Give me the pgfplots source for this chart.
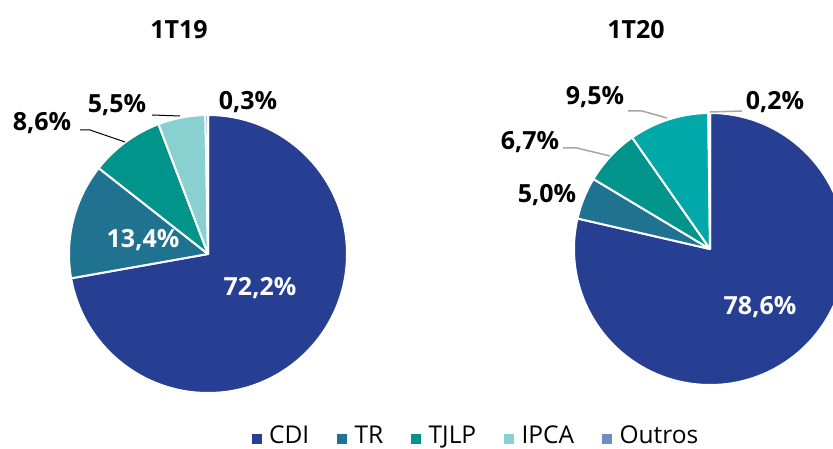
\documentclass[border=0pt]{standalone}
\usepackage{pgfplots}
\pgfplotsset{compat=1.18}
\usepackage{fontspec}
\setmainfont{Open Sans}

\definecolor{cdi}{RGB}{38,63,147}
\definecolor{tr}{RGB}{31,114,144}
\definecolor{tjlp}{RGB}{0,148,138}
\definecolor{ipca}{RGB}{136,209,208}
\definecolor{ipcaB}{RGB}{0,168,170}
\definecolor{outros}{RGB}{111,140,198}
\definecolor{leader}{RGB}{166,166,166}

% one pie: centre x, centre y, radius (pt), list of value/colour (clockwise from 12 o'clock)
\newcommand\drawpie[4]{%
  \pgfmathsetmacro\cur{90}%
  \foreach \v/\c in {#4} {%
    \pgfmathsetmacro\nxt{\cur-3.6*\v}%
    \fill[\c, draw=white, line width=2pt, line join=round]
      (axis cs:#1,#2) -- ++(\cur:#3pt) arc[start angle=\cur, end angle=\nxt, radius=#3pt] -- cycle;
    \global\let\cur\nxt
  }%
}

\newcommand\lbl{\bfseries\fontsize{25}{25}\selectfont}

\begin{document}
\begin{tikzpicture}
\useasboundingbox (0,0) rectangle (833pt,448pt);
\begin{axis}[
    at={(0,0)}, anchor=south west,
    scale only axis,
    width=833pt, height=448pt,
    xmin=0, xmax=833, ymin=0, ymax=448,
    hide axis,
    clip=true,
    legend columns=5,
    legend image code/.code={\fill[#1] (0pt,0pt) rectangle (9pt,9pt);},
    legend style={
        at={(axis cs:475,3)}, anchor=south,
        draw=none, fill=none, inner sep=0pt,
        nodes={inner sep=0pt, anchor=base west},
        font=\fontsize{24.5}{24.5}\selectfont,
        /tikz/every odd column/.append style={column sep=8pt},
        /tikz/every even column/.append style={column sep=28pt},
    },
]
\addlegendimage{cdi}\addlegendentry{CDI}
\addlegendimage{tr}\addlegendentry{TR}
\addlegendimage{tjlp}\addlegendentry{TJLP}
\addlegendimage{ipca}\addlegendentry{IPCA}
\addlegendimage{outros}\addlegendentry{Outros}

\pgfplotsextra{
  \begin{scope}
  \clip (axis cs:0,0) rectangle (axis cs:833,448);
  % 1T19
  \drawpie{208}{194}{139}{72.2/cdi, 13.4/tr, 8.6/tjlp, 5.5/ipca, 0.3/outros}
  % 1T20
  \drawpie{710}{199}{136}{78.6/cdi, 5.0/tr, 6.7/tjlp, 9.5/ipcaB, 0.2/outros}
  \end{scope}
}

% leader lines
\draw[black, line width=1pt] (axis cs:80,318) -- (axis cs:90,318) -- (axis cs:125,306);
\draw[black, line width=1pt] (axis cs:152,333) -- (axis cs:180,332);
\draw[leader, line width=1.5pt] (axis cs:563,300) -- (axis cs:577,300) -- (axis cs:610,292);
\draw[leader, line width=1.5pt] (axis cs:628,337) -- (axis cs:642,337) -- (axis cs:667,330);
\draw[leader, line width=1.5pt] (axis cs:710,336) -- (axis cs:742,337);

% titles
\node[font=\lbl] at (axis cs:179,418) {1T19};
\node[font=\lbl] at (axis cs:636,418) {1T20};

% data labels
\node[font=\lbl, white] at (axis cs:260,160) {72,2\%};
\node[font=\lbl, white] at (axis cs:143,208) {13,4\%};
\node[font=\lbl] at (axis cs:42,325) {8,6\%};
\node[font=\lbl] at (axis cs:117,343) {5,5\%};
\node[font=\lbl] at (axis cs:248,346) {0,3\%};
\node[font=\lbl, white] at (axis cs:760,141) {78,6\%};
\node[font=\lbl] at (axis cs:547,253) {5,0\%};
\node[font=\lbl] at (axis cs:530,306) {6,7\%};
\node[font=\lbl] at (axis cs:595,351) {9,5\%};
\node[font=\lbl] at (axis cs:775,346) {0,2\%};
\end{axis}
\end{tikzpicture}
\end{document}
